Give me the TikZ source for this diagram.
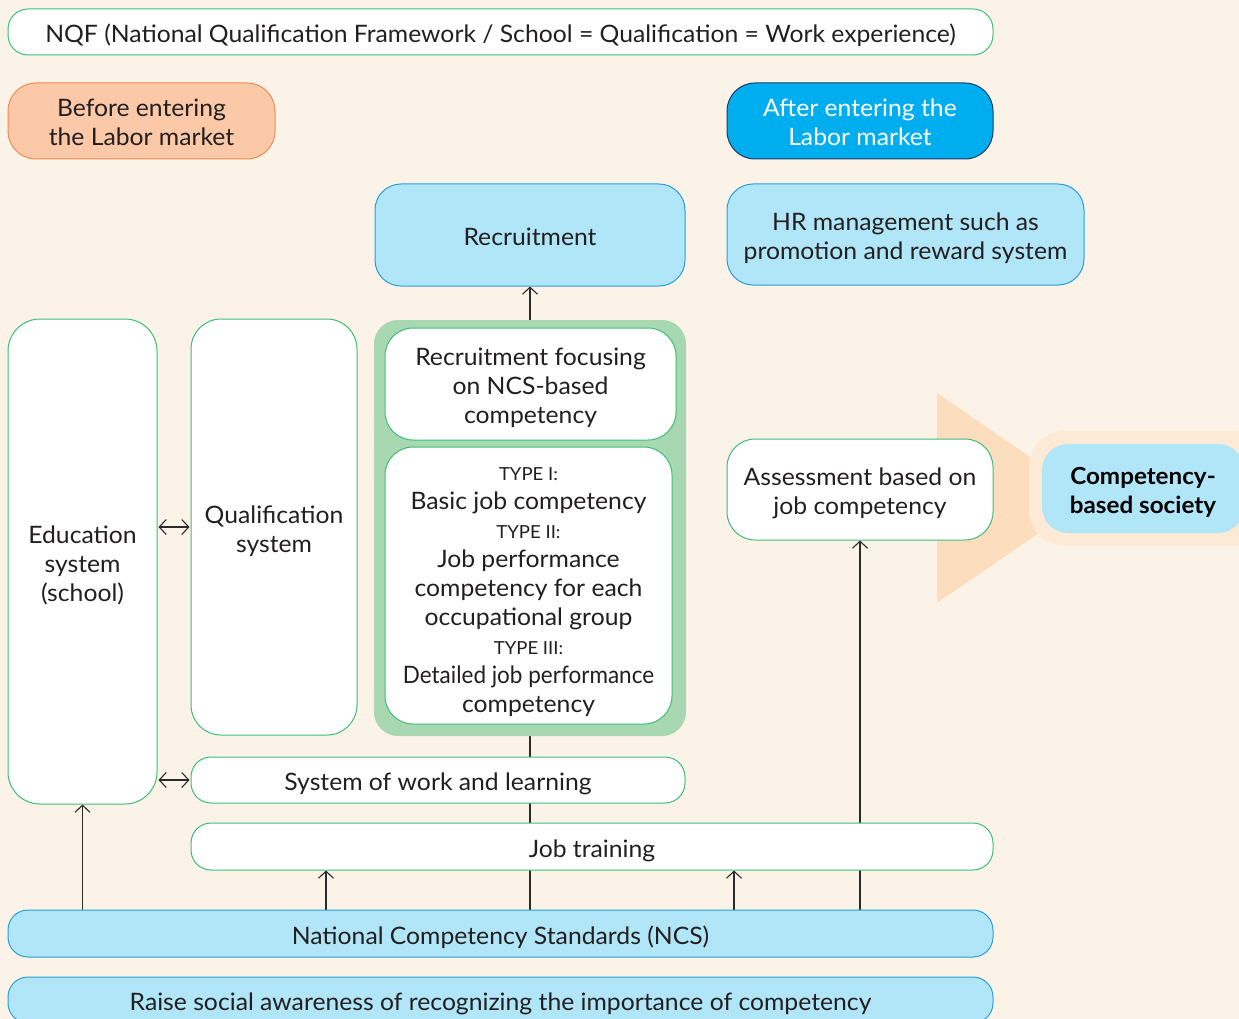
\documentclass[tikz,border=0pt]{standalone}
\usepackage{graphicx}
\usepackage{fontspec}
\setmainfont{Lato}[FakeStretch=1.03]
\usetikzlibrary{arrows.meta}

\definecolor{cream}{HTML}{FCF3E8}
\definecolor{grn}{HTML}{3DBE78}
\definecolor{ltblue}{HTML}{B0E6F8}
\definecolor{blueline}{HTML}{2A9FD6}
\definecolor{peach}{HTML}{FBC8A8}
\definecolor{peachline}{HTML}{F08A50}
\definecolor{brightblue}{HTML}{00AEEF}
\definecolor{navyline}{HTML}{1E3A5F}
\definecolor{sage}{HTML}{A8D8B2}
\definecolor{wedge}{HTML}{FCDDBD}
\definecolor{halo}{HTML}{FDEAD6}
\definecolor{ink}{HTML}{231F20}
\definecolor{wirecol}{HTML}{2B2B2B}

\pgfdeclarelayer{paper}
\pgfdeclarelayer{wires}
\pgfsetlayers{paper,wires,main}

% struts on the first and last line fix where a label block sits in its box
\newcommand{\topstrut}{\rule{0pt}{28pt}}
\newcommand{\botstrut}{\rule[-7pt]{0pt}{7pt}}
\newcommand{\lbl}[1]{\topstrut#1\botstrut}
\newcommand{\typelbl}[1]{{\fontsize{18}{18}\selectfont #1}}

\begin{document}
\begin{tikzpicture}[x=1pt,y=-1pt,
  box/.style={rectangle, line width=1pt, inner sep=0pt, align=center,
    font=\fontsize{24}{29}\selectfont, text=ink},
  wbox/.style={box, fill=white, draw=grn},
  bbox/.style={box, fill=ltblue, draw=blueline},
  wire/.style={line width=1.1pt, draw=wirecol},
  arr/.style={wire, -{Straight Barb[length=7pt,width=15pt,line width=1.1pt]}},
  darr/.style={wire, {Straight Barb[length=7pt,width=15pt,line width=1.1pt]}-{Straight Barb[length=7pt,width=15pt,line width=1.1pt]}}
]
\useasboundingbox (0,0) rectangle (1239,1019);
\begin{pgfonlayer}{paper}
  \fill[cream] (0,0) rectangle (1239,1019);
\end{pgfonlayer}

% wedge pointing to the goal
\fill[wedge] (937,393) -- (1090,498) -- (937,603) -- cycle;

% header and phase labels
\node[wbox, rounded corners=20pt, minimum width=985pt, minimum height=46pt] (nqf) at (500.5,32)
  {\lbl{NQF (National Qualification Framework / School = Qualification = Work experience)}};
\node[box, fill=peach, draw=peachline, rounded corners=28pt, minimum width=267pt, minimum height=76pt] (before) at (141.5,121)
  {\lbl{Before entering\\the Labor market}};
\node[box, fill=brightblue, draw=navyline, text=white, rounded corners=28pt, minimum width=266pt, minimum height=76pt] (after) at (860,121)
  {\lbl{After entering the\\Labor market}};

% labour market blocks
\node[bbox, rounded corners=26pt, minimum width=310pt, minimum height=102pt] (recruit) at (530,235) {\lbl{Recruitment}};
\node[bbox, rounded corners=26pt, minimum width=357pt, minimum height=101pt] (hr) at (905.5,234.5)
  {\lbl{HR management such as\\promotion and reward system}};

% left columns
\node[wbox, rounded corners=32pt, minimum width=149pt, minimum height=485pt] (edu) at (82.5,561.5)
  {\lbl{Education\\system\\(school)}};
\node[wbox, rounded corners=30pt, minimum width=166pt, minimum height=416pt] (qual) at (274,527)
  {\lbl{Qualification\\system}};

% NCS-based recruitment group
\node[fill=sage, rounded corners=24pt, minimum width=312pt, minimum height=416pt, inner sep=0pt] (grp) at (530,528) {};
\node[wbox, rounded corners=28pt, minimum width=291pt, minimum height=112pt] (rfocus) at (530.5,384)
  {\lbl{Recruitment focusing\\on NCS-based\\competency}};
\node[wbox, rounded corners=28pt, minimum width=287pt, minimum height=277pt] (types) at (528.5,585.5)
  {\lbl{\typelbl{TYPE I:}\\
   Basic job competency\\
   \typelbl{TYPE II:}\\
   Job performance\\competency for each\\occupational group\\
   \typelbl{TYPE III:}\\
   \scalebox{0.91}[1]{Detailed job performance}\\competency}};

% assessment and goal
\node[wbox, rounded corners=28pt, minimum width=266pt, minimum height=101pt] (assess) at (860,489.5)
  {\lbl{Assessment based on\\job competency}};
\node[fill=halo, rounded corners=36pt, minimum width=240pt, minimum height=115pt, inner sep=0pt] (halo) at (1149,488.5) {};
\node[box, fill=ltblue, rounded corners=26pt, minimum width=202pt, minimum height=89pt, font=\fontsize{23.5}{29}\selectfont\bfseries, text=black] (goal) at (1143,488.5)
  {\lbl{Competency-\\based society}};

% bottom bands
\node[wbox, rounded corners=20pt, minimum width=494pt, minimum height=46pt] (sysw) at (438,780)
  {\lbl{System of work and learning}};
\node[wbox, rounded corners=20pt, minimum width=802pt, minimum height=47pt] (jobtr) at (592,846.5)
  {\lbl{Job training}};
\node[bbox, rounded corners=20pt, minimum width=985pt, minimum height=47pt] (ncs) at (500.5,933.5)
  {\lbl{National Competency Standards (NCS)}};
\node[bbox, rounded corners=20pt, minimum width=985pt, minimum height=46pt] (raise) at (500.5,1000)
  {\lbl{Raise social awareness of recognizing the importance of competency}};

% connectors
\coordinate (colA) at (326,0);
\coordinate (colB) at (734,0);
\begin{pgfonlayer}{wires}
  \draw[wire] (grp.south) -- (grp.south |- ncs.north);
  \draw[arr] (grp.north) -- (recruit.south);
  \draw[arr] (ncs.north -| assess.south) -- (assess.south);
  \draw[arr] (ncs.north -| edu.south) -- (edu.south);
  \draw[arr] (ncs.north -| colA) -- (jobtr.south -| colA);
  \draw[arr] (ncs.north -| colB) -- (jobtr.south -| colB);
  \draw[darr, shorten <=1pt, shorten >=1pt] (edu.east |- qual.west) -- (qual.west);
  \draw[darr, shorten <=1pt, shorten >=1pt] (edu.east |- sysw.west) -- (sysw.west);
\end{pgfonlayer}
\end{tikzpicture}
\end{document}
